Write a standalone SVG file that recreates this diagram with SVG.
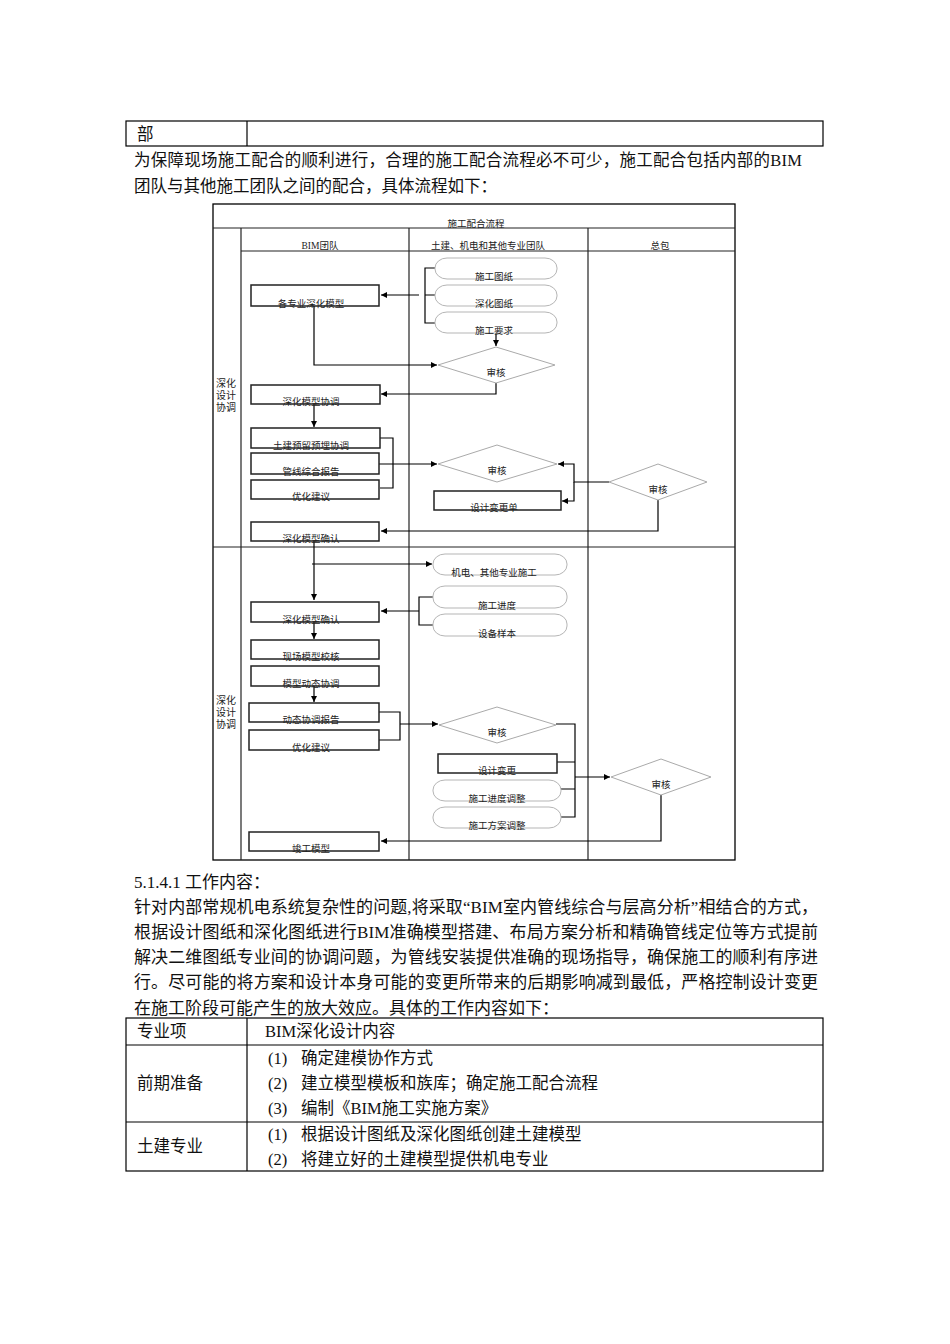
<svg xmlns="http://www.w3.org/2000/svg" width="950" height="1344" viewBox="0 0 950 1344">
<defs>
<style>
.frame{fill:none;stroke:#000;stroke-width:1.3}
.lane{fill:none;stroke:#222;stroke-width:1.2}
.box{fill:#fff;stroke:#222;stroke-width:1.5}
.rbox{fill:#fff;stroke:#b5b5b5;stroke-width:1}
.dia{fill:#fff;stroke:#aaa;stroke-width:1}
.c{fill:none;stroke:#000;stroke-width:1.2}
.t{font-family:"Liberation Serif","Noto Sans CJK SC",serif;font-size:9.5px;fill:#222;text-anchor:middle}
.lbl{font-family:"Liberation Serif","Noto Sans CJK SC",serif;font-size:10px;fill:#222}
.p{font-family:"Liberation Serif","Noto Sans CJK SC",serif;font-size:16.5px;fill:#111}
.q{font-family:"Liberation Serif","Noto Sans CJK SC",serif;font-size:17px;fill:#111}
.tb{fill:none;stroke:#000;stroke-width:1.2}
</style>
<marker id="ah" viewBox="0 0 10 10" refX="10" refY="5" markerWidth="7" markerHeight="6" markerUnits="userSpaceOnUse" orient="auto">
<path d="M0,0 L10,5 L0,10 z" fill="#000"/>
</marker>
</defs>
<rect width="950" height="1344" fill="#fff"/>

<!-- top table -->
<g id="top-table">
<rect class="tb" x="126" y="121" width="697" height="25"/>
<line class="tb" x1="247" y1="121" x2="247" y2="146"/>
<text class="p" x="137" y="140">部</text>
</g>
<g id="intro">
<text class="p" x="134" y="166" textLength="668" lengthAdjust="spacing">为保障现场施工配合的顺利进行，合理的施工配合流程必不可少，施工配合包括内部的BIM</text>
<text class="p" x="134" y="192">团队与其他施工团队之间的配合，具体流程如下：</text>
</g>

<!-- flowchart frame -->
<g id="frame">
<rect class="frame" x="213" y="204" width="522" height="656"/>
<line class="lane" x1="213" y1="228" x2="735" y2="228"/>
<line class="lane" x1="241" y1="228" x2="241" y2="860"/>
<line class="lane" x1="409" y1="228" x2="409" y2="860"/>
<line class="lane" x1="588" y1="228" x2="588" y2="860"/>
<line class="lane" x1="241" y1="251" x2="735" y2="251"/>
<line class="lane" x1="213" y1="547" x2="735" y2="547"/>
<text class="t" x="476" y="227">施工配合流程</text>
<text class="t" x="320" y="249">BIM团队</text>
<text class="t" x="488" y="249">土建、机电和其他专业团队</text>
<text class="t" x="660" y="249">总包</text>
<text class="lbl" x="216" y="387">深化</text>
<text class="lbl" x="216" y="399">设计</text>
<text class="lbl" x="216" y="411">协调</text>
<text class="lbl" x="216" y="704">深化</text>
<text class="lbl" x="216" y="716">设计</text>
<text class="lbl" x="216" y="728">协调</text>
</g>

<!-- connectors -->
<g id="connectors">
<path class="c" d="M435,268 H425 V323 H435 M425,295 H435"/>
<path class="c" d="M419,295 H381" marker-end="url(#ah)"/>
<path class="c" d="M314,306 V365 H437" marker-end="url(#ah)"/>
<path class="c" d="M496,333 V346" marker-end="url(#ah)"/>
<path class="c" d="M496,383 V394 H381" marker-end="url(#ah)"/>
<path class="c" d="M314,404 V427" marker-end="url(#ah)"/>
<path class="c" d="M380,438 H393 V488 H380"/>
<path class="c" d="M379,464 H437" marker-end="url(#ah)"/>
<path class="c" d="M609,482 H574 V464 H558" marker-end="url(#ah)"/>
<path class="c" d="M574,482 V501 H562" marker-end="url(#ah)"/>
<path class="c" d="M658,500 V531 H381" marker-end="url(#ah)"/>
<path class="c" d="M314,541 V600" marker-end="url(#ah)"/>
<path class="c" d="M312,564 H432" marker-end="url(#ah)"/>
<path class="c" d="M433,597 H419 V625 H433"/>
<path class="c" d="M419,611 H381" marker-end="url(#ah)"/>
<path class="c" d="M314,622 V639" marker-end="url(#ah)"/>
<path class="c" d="M314,686 V702" marker-end="url(#ah)"/>
<path class="c" d="M379,712 H400 V740 H379"/>
<path class="c" d="M400,724 H438" marker-end="url(#ah)"/>
<path class="c" d="M556,724 H575 V817 H561 M557,762 H575 M561,789 H575"/>
<path class="c" d="M575,777 H610" marker-end="url(#ah)"/>
<path class="c" d="M661,795 V841 H381" marker-end="url(#ah)"/>
</g>

<!-- section 1 nodes -->
<g id="n-sgtz"><rect class="rbox" x="435" y="258" width="122" height="21" rx="12" ry="10"/><text class="t" x="494" y="280">施工图纸</text></g>
<g id="n-shtz"><rect class="rbox" x="435" y="285" width="122" height="21" rx="12" ry="10"/><text class="t" x="494" y="307">深化图纸</text></g>
<g id="n-sgyq"><rect class="rbox" x="435" y="312" width="122" height="21" rx="12" ry="10"/><text class="t" x="494" y="334">施工要求</text></g>
<g id="n-gzy"><rect class="box" x="251" y="285" width="128" height="21"/><text class="t" x="311" y="307">各专业深化模型</text></g>
<g id="n-sh1"><polygon class="dia" points="438,365 496,347 555,365 496,383"/><text class="t" x="496" y="376">审核</text></g>
<g id="n-shmxxt"><rect class="box" x="251" y="385" width="129" height="19"/><text class="t" x="311" y="405">深化模型协调</text></g>
<g id="n-tjyl"><rect class="box" x="251" y="428" width="129" height="20"/><text class="t" x="311" y="449">土建预留预埋协调</text></g>
<g id="n-gxzh"><rect class="box" x="251" y="453" width="128" height="21"/><text class="t" x="311" y="475">管线综合报告</text></g>
<g id="n-yhjy1"><rect class="box" x="251" y="480" width="128" height="19"/><text class="t" x="311" y="500">优化建议</text></g>
<g id="n-sh2"><polygon class="dia" points="438,464 497,445 557,464 497,482"/><text class="t" x="497" y="474">审核</text></g>
<g id="n-sjbgd"><rect class="box" x="434" y="491" width="127" height="19"/><text class="t" x="494" y="511">设计变更单</text></g>
<g id="n-sh3"><polygon class="dia" points="609,482 658,464 707,482 658,500"/><text class="t" x="658" y="493">审核</text></g>
<g id="n-shmxqr1"><rect class="box" x="251" y="522" width="128" height="19"/><text class="t" x="311" y="542">深化模型确认</text></g>

<!-- section 2 nodes -->
<g id="n-jdsg"><rect class="rbox" x="433" y="554" width="134" height="21" rx="12" ry="10"/><text class="t" x="494" y="576">机电、其他专业施工</text></g>
<g id="n-sgjd"><rect class="rbox" x="433" y="586" width="134" height="22" rx="12" ry="10"/><text class="t" x="497" y="609">施工进度</text></g>
<g id="n-sbyb"><rect class="rbox" x="433" y="614" width="134" height="22" rx="12" ry="10"/><text class="t" x="497" y="637">设备样本</text></g>
<g id="n-shmxqr2"><rect class="box" x="251" y="602" width="128" height="20"/><text class="t" x="311" y="623">深化模型确认</text></g>
<g id="n-xcmx"><rect class="box" x="251" y="640" width="128" height="19"/><text class="t" x="311" y="660">现场模型校核</text></g>
<g id="n-mxdt"><rect class="box" x="251" y="666" width="128" height="20"/><text class="t" x="311" y="687">模型动态协调</text></g>
<g id="n-dtxt"><rect class="box" x="249" y="703" width="130" height="19"/><text class="t" x="311" y="723">动态协调报告</text></g>
<g id="n-yhjy2"><rect class="box" x="249" y="730" width="130" height="20"/><text class="t" x="311" y="751">优化建议</text></g>
<g id="n-sh4"><polygon class="dia" points="439,725 497,707 556,725 497,743"/><text class="t" x="497" y="736">审核</text></g>
<g id="n-sjbg"><rect class="box" x="438" y="754" width="119" height="19"/><text class="t" x="497" y="774">设计变更</text></g>
<g id="n-sgjdtz"><rect class="rbox" x="433" y="780" width="128" height="21" rx="12" ry="10"/><text class="t" x="497" y="802">施工进度调整</text></g>
<g id="n-sgfatz"><rect class="rbox" x="433" y="807" width="128" height="21" rx="12" ry="10"/><text class="t" x="497" y="829">施工方案调整</text></g>
<g id="n-sh5"><polygon class="dia" points="611,777 661,759 711,777 661,795"/><text class="t" x="661" y="788">审核</text></g>
<g id="n-jgmx"><rect class="box" x="249" y="832" width="130" height="19"/><text class="t" x="311" y="852">竣工模型</text></g>

<!-- lower text -->
<g id="work">
<text class="q" x="134" y="888">5.1.4.1 工作内容：</text>
<text class="q" x="134" y="913" textLength="684" lengthAdjust="spacing">针对内部常规机电系统复杂性的问题,将采取“BIM室内管线综合与层高分析”相结合的方式，</text>
<text class="q" x="134" y="938" textLength="684" lengthAdjust="spacing">根据设计图纸和深化图纸进行BIM准确模型搭建、布局方案分析和精确管线定位等方式提前</text>
<text class="q" x="134" y="963" textLength="684" lengthAdjust="spacing">解决二维图纸专业间的协调问题，为管线安装提供准确的现场指导，确保施工的顺利有序进</text>
<text class="q" x="134" y="988" textLength="684" lengthAdjust="spacing">行。尽可能的将方案和设计本身可能的变更所带来的后期影响减到最低，严格控制设计变更</text>
<text class="q" x="134" y="1014">在施工阶段可能产生的放大效应。具体的工作内容如下：</text>
</g>

<!-- bottom table -->
<g id="content-table">
<rect class="tb" x="126" y="1018" width="697" height="153"/>
<line class="tb" x1="247" y1="1018" x2="247" y2="1171"/>
<line class="tb" x1="126" y1="1045" x2="823" y2="1045"/>
<line class="tb" x1="126" y1="1122" x2="823" y2="1122"/>
<text class="p" x="137" y="1037">专业项</text>
<text class="p" x="265" y="1037">BIM深化设计内容</text>
<text class="p" x="137" y="1089">前期准备</text>
<text class="p" x="268" y="1064">(1)<tspan x="301">确定建模协作方式</tspan></text>
<text class="p" x="268" y="1089">(2)<tspan x="301">建立模型模板和族库；确定施工配合流程</tspan></text>
<text class="p" x="268" y="1114">(3)<tspan x="301">编制《BIM施工实施方案》</tspan></text>
<text class="p" x="137" y="1152">土建专业</text>
<text class="p" x="268" y="1140">(1)<tspan x="301">根据设计图纸及深化图纸创建土建模型</tspan></text>
<text class="p" x="268" y="1165">(2)<tspan x="301">将建立好的土建模型提供机电专业</tspan></text>
</g>
</svg>
